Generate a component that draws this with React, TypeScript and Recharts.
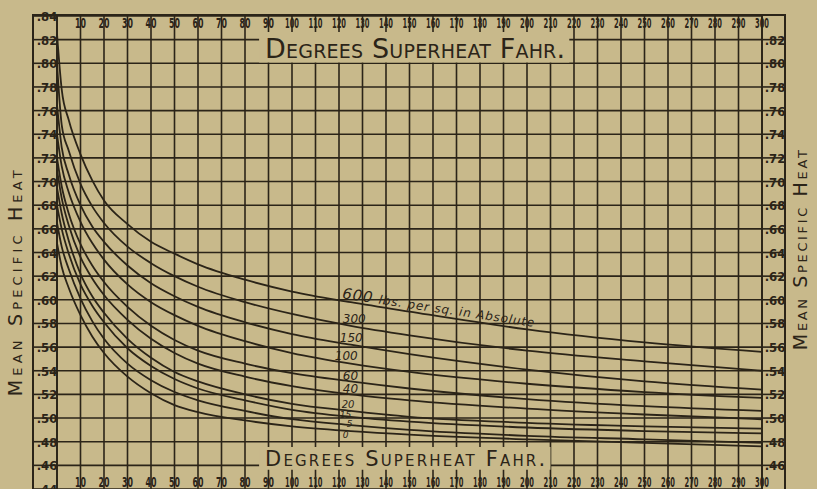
import React from "react";
import { LineChart, Line, XAxis, YAxis, CartesianGrid, ReferenceArea } from "recharts";

const BG = "#c8b98b";
const INK = "#2b2418";
const HAND = "'DejaVu Sans', sans-serif";
const NARROW = "'DejaVu Sans Condensed', 'Liberation Sans Narrow', sans-serif";

// degrees of superheat (°F) where the curves were read
const superheat = [0, 2, 5, 10, 15, 20, 30, 40, 50, 60, 80, 100, 125, 150, 200, 250, 300];

// mean specific heat for each absolute pressure (lbs. per sq. in.)
const p600 = [0.825, 0.778, 0.752, 0.723, 0.701, 0.684, 0.664, 0.649, 0.639, 0.63, 0.617, 0.607, 0.598, 0.59, 0.575, 0.564, 0.556];
const p300 = [0.8, 0.748, 0.726, 0.698, 0.679, 0.665, 0.645, 0.631, 0.62, 0.611, 0.598, 0.588, 0.578, 0.57, 0.557, 0.548, 0.54];
const p150 = [0.765, 0.729, 0.706, 0.68, 0.662, 0.649, 0.629, 0.614, 0.603, 0.594, 0.581, 0.571, 0.562, 0.554, 0.541, 0.531, 0.524];
const p100 = [0.74, 0.713, 0.691, 0.666, 0.648, 0.634, 0.613, 0.598, 0.587, 0.578, 0.565, 0.555, 0.546, 0.539, 0.529, 0.522, 0.517];
const p60 = [0.72, 0.696, 0.673, 0.647, 0.629, 0.615, 0.594, 0.578, 0.566, 0.557, 0.546, 0.538, 0.531, 0.525, 0.516, 0.51, 0.506];
const p40 = [0.71, 0.686, 0.663, 0.636, 0.618, 0.604, 0.583, 0.567, 0.555, 0.546, 0.535, 0.527, 0.52, 0.515, 0.508, 0.503, 0.499];
const p20 = [0.695, 0.673, 0.65, 0.622, 0.603, 0.589, 0.567, 0.551, 0.539, 0.531, 0.52, 0.512, 0.506, 0.501, 0.496, 0.493, 0.491];
const p15 = [0.68, 0.66, 0.639, 0.613, 0.595, 0.581, 0.559, 0.544, 0.533, 0.525, 0.515, 0.507, 0.501, 0.497, 0.492, 0.489, 0.487];
const p5 = [0.665, 0.645, 0.626, 0.601, 0.582, 0.567, 0.546, 0.532, 0.522, 0.515, 0.506, 0.499, 0.494, 0.49, 0.485, 0.482, 0.479];
const p0 = [0.648, 0.628, 0.61, 0.587, 0.569, 0.555, 0.535, 0.521, 0.511, 0.505, 0.498, 0.493, 0.489, 0.486, 0.482, 0.479, 0.476];

const curveNames = ["600", "300", "150", "100", "60", "40", "20", "15", "5", "0"];
const curveValues = [p600, p300, p150, p100, p60, p40, p20, p15, p5, p0];
const labelAt = 125; // superheat where the pressure labels are written

const xTicks = [0, 10, 20, 30, 40, 50, 60, 70, 80, 90, 100, 110, 120, 130, 140, 150, 160, 170, 180, 190, 200, 210, 220, 230, 240, 250, 260, 270, 280, 290, 300];
const yTicks = [0.44, 0.46, 0.48, 0.5, 0.52, 0.54, 0.56, 0.58, 0.6, 0.62, 0.64, 0.66, 0.68, 0.7, 0.72, 0.74, 0.76, 0.78, 0.8, 0.82, 0.84];
const rightTicks = [0.46, 0.48, 0.5, 0.52, 0.54, 0.56, 0.58, 0.6, 0.62, 0.64, 0.66, 0.68, 0.7, 0.72, 0.74, 0.76, 0.78, 0.8, 0.82];

// where each hand-written pressure label sits relative to its curve
const labelOffset: Record<string, [number, number, number]> = {
  "600": [-9, -4, 15],
  "300": [-8, -3, 12],
  "150": [-11, -3, 12],
  "100": [-16, -4, 12],
  "60": [-8, -1, 12],
  "40": [-8, -1, 12],
  "20": [-9, -3, 10],
  "15": [-11, 1, 9],
  "5": [-4, 2, 9],
  "0": [-8, 7, 9],
};

const data = superheat.map((x, i) => {
  const row: Record<string, number> = { x };
  curveNames.forEach((n, k) => (row["p" + n] = curveValues[k][i]));
  return row;
});

const fmtY = (v: number) => "." + Math.round(v * 100);

const xLabel = (x: number, y: number, v: number) => {
  const s = String(v);
  return (
    <text
      x={x}
      y={y}
      textAnchor="middle"
      fontFamily={NARROW}
      fontSize={13.5}
      fontWeight="bold"
      fill={INK}
      textLength={s.length === 2 ? 11 : 14}
      lengthAdjust="spacingAndGlyphs"
    >
      {s}
    </text>
  );
};

const TopTick = (p: any) => (p.payload.value === 0 ? null : xLabel(p.x, p.y + 12, p.payload.value));
const BottomTick = (p: any) => (p.payload.value === 0 ? null : xLabel(p.x, p.y - 2, p.payload.value));

const LeftTick = (p: any) => (
  <text x={p.x + 14} y={p.y + 5} textAnchor="middle" fontFamily={NARROW} fontSize={13} fontWeight="bold" fill={INK}>
    {fmtY(p.payload.value)}
  </text>
);

const RightTick = (p: any) => (
  <text x={p.x - 8} y={p.y + 5} textAnchor="middle" fontFamily={NARROW} fontSize={13} fontWeight="bold" fill={INK}>
    {fmtY(p.payload.value)}
  </text>
);

const sideTitle = (dx: number, cy: number, len: number) => (props: any) => {
  const vb = props.viewBox;
  const x = vb.x + dx;
  const y = vb.y + vb.height * cy;
  return (
    <text
      x={x}
      y={y}
      transform={`rotate(-90 ${x} ${y})`}
      textAnchor="middle"
      dominantBaseline="middle"
      fontFamily={HAND}
      fontSize={19}
      fill={INK}
      textLength={len}
      lengthAdjust="spacing"
      style={{ fontVariant: "small-caps" }}
    >
      Mean Specific Heat
    </text>
  );
};

const axisTitle = (size: number, len: number) => (props: any) => {
  const vb = props.viewBox;
  return (
    <text
      x={vb.x + 6}
      y={vb.y + vb.height - 4}
      fontFamily={HAND}
      fontSize={size}
      fill={INK}
      textLength={len}
      lengthAdjust="spacing"
      style={{ fontVariant: "small-caps" }}
    >
      Degrees Superheat Fahr.
    </text>
  );
};

const curveLabel = (name: string) => (props: any) => {
  if (data[props.index].x !== labelAt) return null;
  const [dx, dy, size] = labelOffset[name];
  const x = props.x + dx;
  const y = props.y + dy;
  if (name === "600") {
    return (
      <text x={x} y={y} transform={`rotate(8.5 ${x} ${y})`} fontFamily={HAND} fontStyle="italic" fill={INK} textLength={194} lengthAdjust="spacing">
        <tspan fontSize={size}>600 </tspan>
        <tspan fontSize={12}>lbs. per sq. in Absolute</tspan>
      </text>
    );
  }
  return (
    <text x={x} y={y} fontFamily={HAND} fontStyle="italic" fontSize={size} fill={INK}>
      {name}
    </text>
  );
};

export default function App() {
  return (
    <div style={{ position: "absolute", left: 0, top: 0, width: 817, height: 489, background: BG, overflow: "hidden" }}>
      <LineChart width={817} height={489} data={data} margin={{ top: 16, right: 34, bottom: 0, left: 33 }}>
        <CartesianGrid stroke={INK} strokeWidth={1.6} />
        <XAxis
          dataKey="x"
          type="number"
          domain={[0, 300]}
          ticks={xTicks}
          orientation="bottom"
          mirror
          height={20}
          tickSize={0}
          tickMargin={0}
          axisLine={false}
          tickLine={false}
          tick={BottomTick}
          interval={0}
        />
        <XAxis
          xAxisId="top"
          dataKey="x"
          type="number"
          domain={[0, 300]}
          ticks={xTicks}
          orientation="top"
          mirror
          height={20}
          tickSize={0}
          tickMargin={0}
          axisLine={false}
          tickLine={false}
          tick={TopTick}
          interval={0}
        />
        <YAxis
          type="number"
          domain={[0.44, 0.84]}
          ticks={yTicks}
          width={24}
          tickSize={24}
          tickMargin={0}
          interval={0}
          axisLine={{ stroke: INK, strokeWidth: 1.8 }}
          tickLine={{ stroke: INK, strokeWidth: 1.6 }}
          tick={LeftTick}
          label={{ content: sideTitle(-16, 0.565, 226) }}
        />
        <YAxis
          yAxisId="right"
          orientation="right"
          type="number"
          domain={[0.44, 0.84]}
          ticks={rightTicks}
          width={21}
          tickSize={21}
          tickMargin={0}
          interval={0}
          axisLine={{ stroke: INK, strokeWidth: 1.8 }}
          tickLine={{ stroke: INK, strokeWidth: 1.6 }}
          tick={RightTick}
          label={{ content: sideTitle(40, 0.495, 200) }}
        />
        <ReferenceArea
          x1={86}
          x2={218}
          y1={0.8007}
          y2={0.8265}
          fill={BG}
          fillOpacity={1}
          stroke="none"
          label={{ content: axisTitle(27, 300) }}
        />
        <ReferenceArea
          x1={86}
          x2={210}
          y1={0.4562}
          y2={0.4755}
          fill={BG}
          fillOpacity={1}
          stroke="none"
          label={{ content: axisTitle(21, 280) }}
        />
        {curveNames.map((n) => (
          <Line
            key={n}
            dataKey={"p" + n}
            type="monotone"
            stroke={INK}
            strokeWidth={1.8}
            dot={false}
            isAnimationActive={false}
            label={curveLabel(n)}
          />
        ))}
        {/* invisible copy so the top and right axes are bound to data */}
        <Line
          xAxisId="top"
          yAxisId="right"
          dataKey="p0"
          stroke="none"
          dot={false}
          activeDot={false}
          legendType="none"
          isAnimationActive={false}
        />
      </LineChart>
      <div
        style={{
          position: "absolute",
          left: 32,
          top: 14,
          width: 750,
          height: 500,
          border: `2px solid ${INK}`,
          pointerEvents: "none",
        }}
      />
    </div>
  );
}
